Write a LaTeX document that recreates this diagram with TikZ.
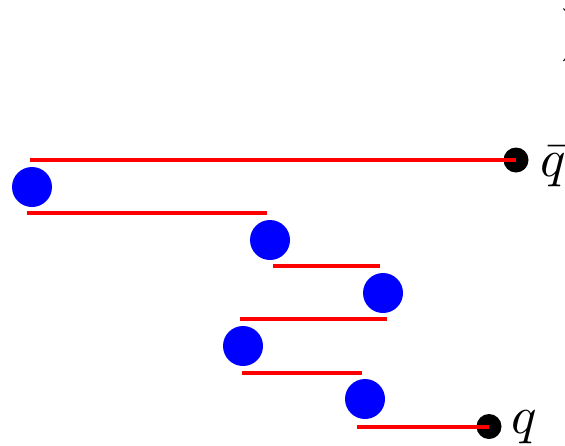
\documentclass[tikz,border=0pt]{standalone}
\begin{document}
\begin{tikzpicture}[x=1pt,y=-1pt,
  prop/.style={red,line width=4pt},
  blob/.style={circle,fill=blue,draw=none,minimum size=40pt,inner sep=0pt},
  quark/.style={circle,fill=black,draw=none,minimum size=25pt,inner sep=0pt},
  lab/.style={inner sep=0pt,anchor=base west,scale=5.3}]
\useasboundingbox (0,0) rectangle (565,445);
\node[quark] (qb) at (516,160) {};
\node[quark] (q) at (489,426.5) {};
\node[blob] (b1) at (32,187) {};
\node[blob] (b2) at (270,240) {};
\node[blob] (b3) at (383,293) {};
\node[blob] (b4) at (243,346) {};
\node[blob] (b5) at (365,399) {};
\coordinate (a1) at (30,160);
\coordinate (a2) at (27,213); \coordinate (e2) at (267,213);
\coordinate (a3) at (273,266); \coordinate (e3) at (380,266);
\coordinate (a4) at (240,319); \coordinate (e4) at (387,319);
\coordinate (a5) at (242,373); \coordinate (e5) at (362,373);
\coordinate (a6) at (357,426.5);
\draw[prop] (a1) -- (qb.center);
\draw[prop] (a2) -- (e2);
\draw[prop] (a3) -- (e3);
\draw[prop] (a4) -- (e4);
\draw[prop] (a5) -- (e5);
\draw[prop] (a6) -- (q.center);
\node[lab] (lqb) at (539,176) {$\bar q$};
\node[lab] (lq) at (510,433) {$q$};
\node[lab] (par) at (559.5,48) {$)$};
\end{tikzpicture}
\end{document}
